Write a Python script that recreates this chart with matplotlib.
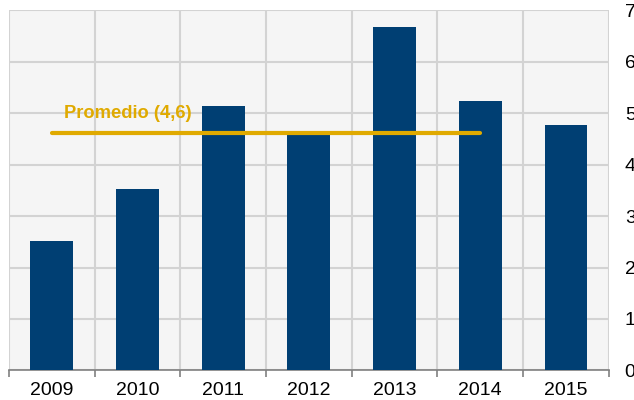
import numpy as np
from matplotlib import pyplot as plt

years = ["2009", "2010", "2011", "2012", "2013", "2014", "2015"]
values = [2.52, 3.52, 5.14, 4.64, 6.67, 5.24, 4.78]
promedio = 4.62

bar_color = "#003F73"
line_color = "#E0AA00"

plt.rcParams['font.family'] = ['Liberation Sans', 'DejaVu Sans']

fig = plt.figure(figsize=(6.34, 4.0), dpi=100)
ax = fig.add_axes([0.0142, 0.074, 0.946, 0.9])
ax.set_facecolor("#F5F5F5")

x = np.arange(len(years))
ax.bar(x, values, width=0.5, color=bar_color, zorder=3)

#  Average line
ax.plot([0, 5.0], [promedio, promedio], color=line_color, lw=3,
        solid_capstyle='round', zorder=4)
ax.text(0.14, 4.9, "Promedio (4,6)", color=line_color,
        fontsize=13.2, fontweight='bold', va='baseline', ha='left', zorder=5)

ax.set_xlim(-0.5, len(years) - 0.5)
ax.set_ylim(0, 7)

ax.set_xticks(x)
ax.set_xticklabels(years, fontsize=14)
ax.set_xticks(np.arange(-0.5, len(years)), minor=True)
ax.tick_params(axis='x', which='major', length=0, pad=8)
ax.tick_params(axis='x', which='minor', length=5, width=1.2, color="#808080")

ax.yaxis.tick_right()
ax.set_yticks(range(0, 8))
ax.tick_params(axis='y', length=0, pad=11.5, labelsize=14)

ax.grid(True, which='minor', axis='x', color="#D3D3D3", lw=1.5, zorder=0)
ax.grid(True, which='major', axis='y', color="#D3D3D3", lw=1.5, zorder=0)

for side in ['top', 'left', 'right']:
    ax.spines[side].set_visible(False)
ax.spines['bottom'].set_color("#808080")
ax.spines['bottom'].set_linewidth(1.2)

plt.savefig("out.png", dpi=100)
